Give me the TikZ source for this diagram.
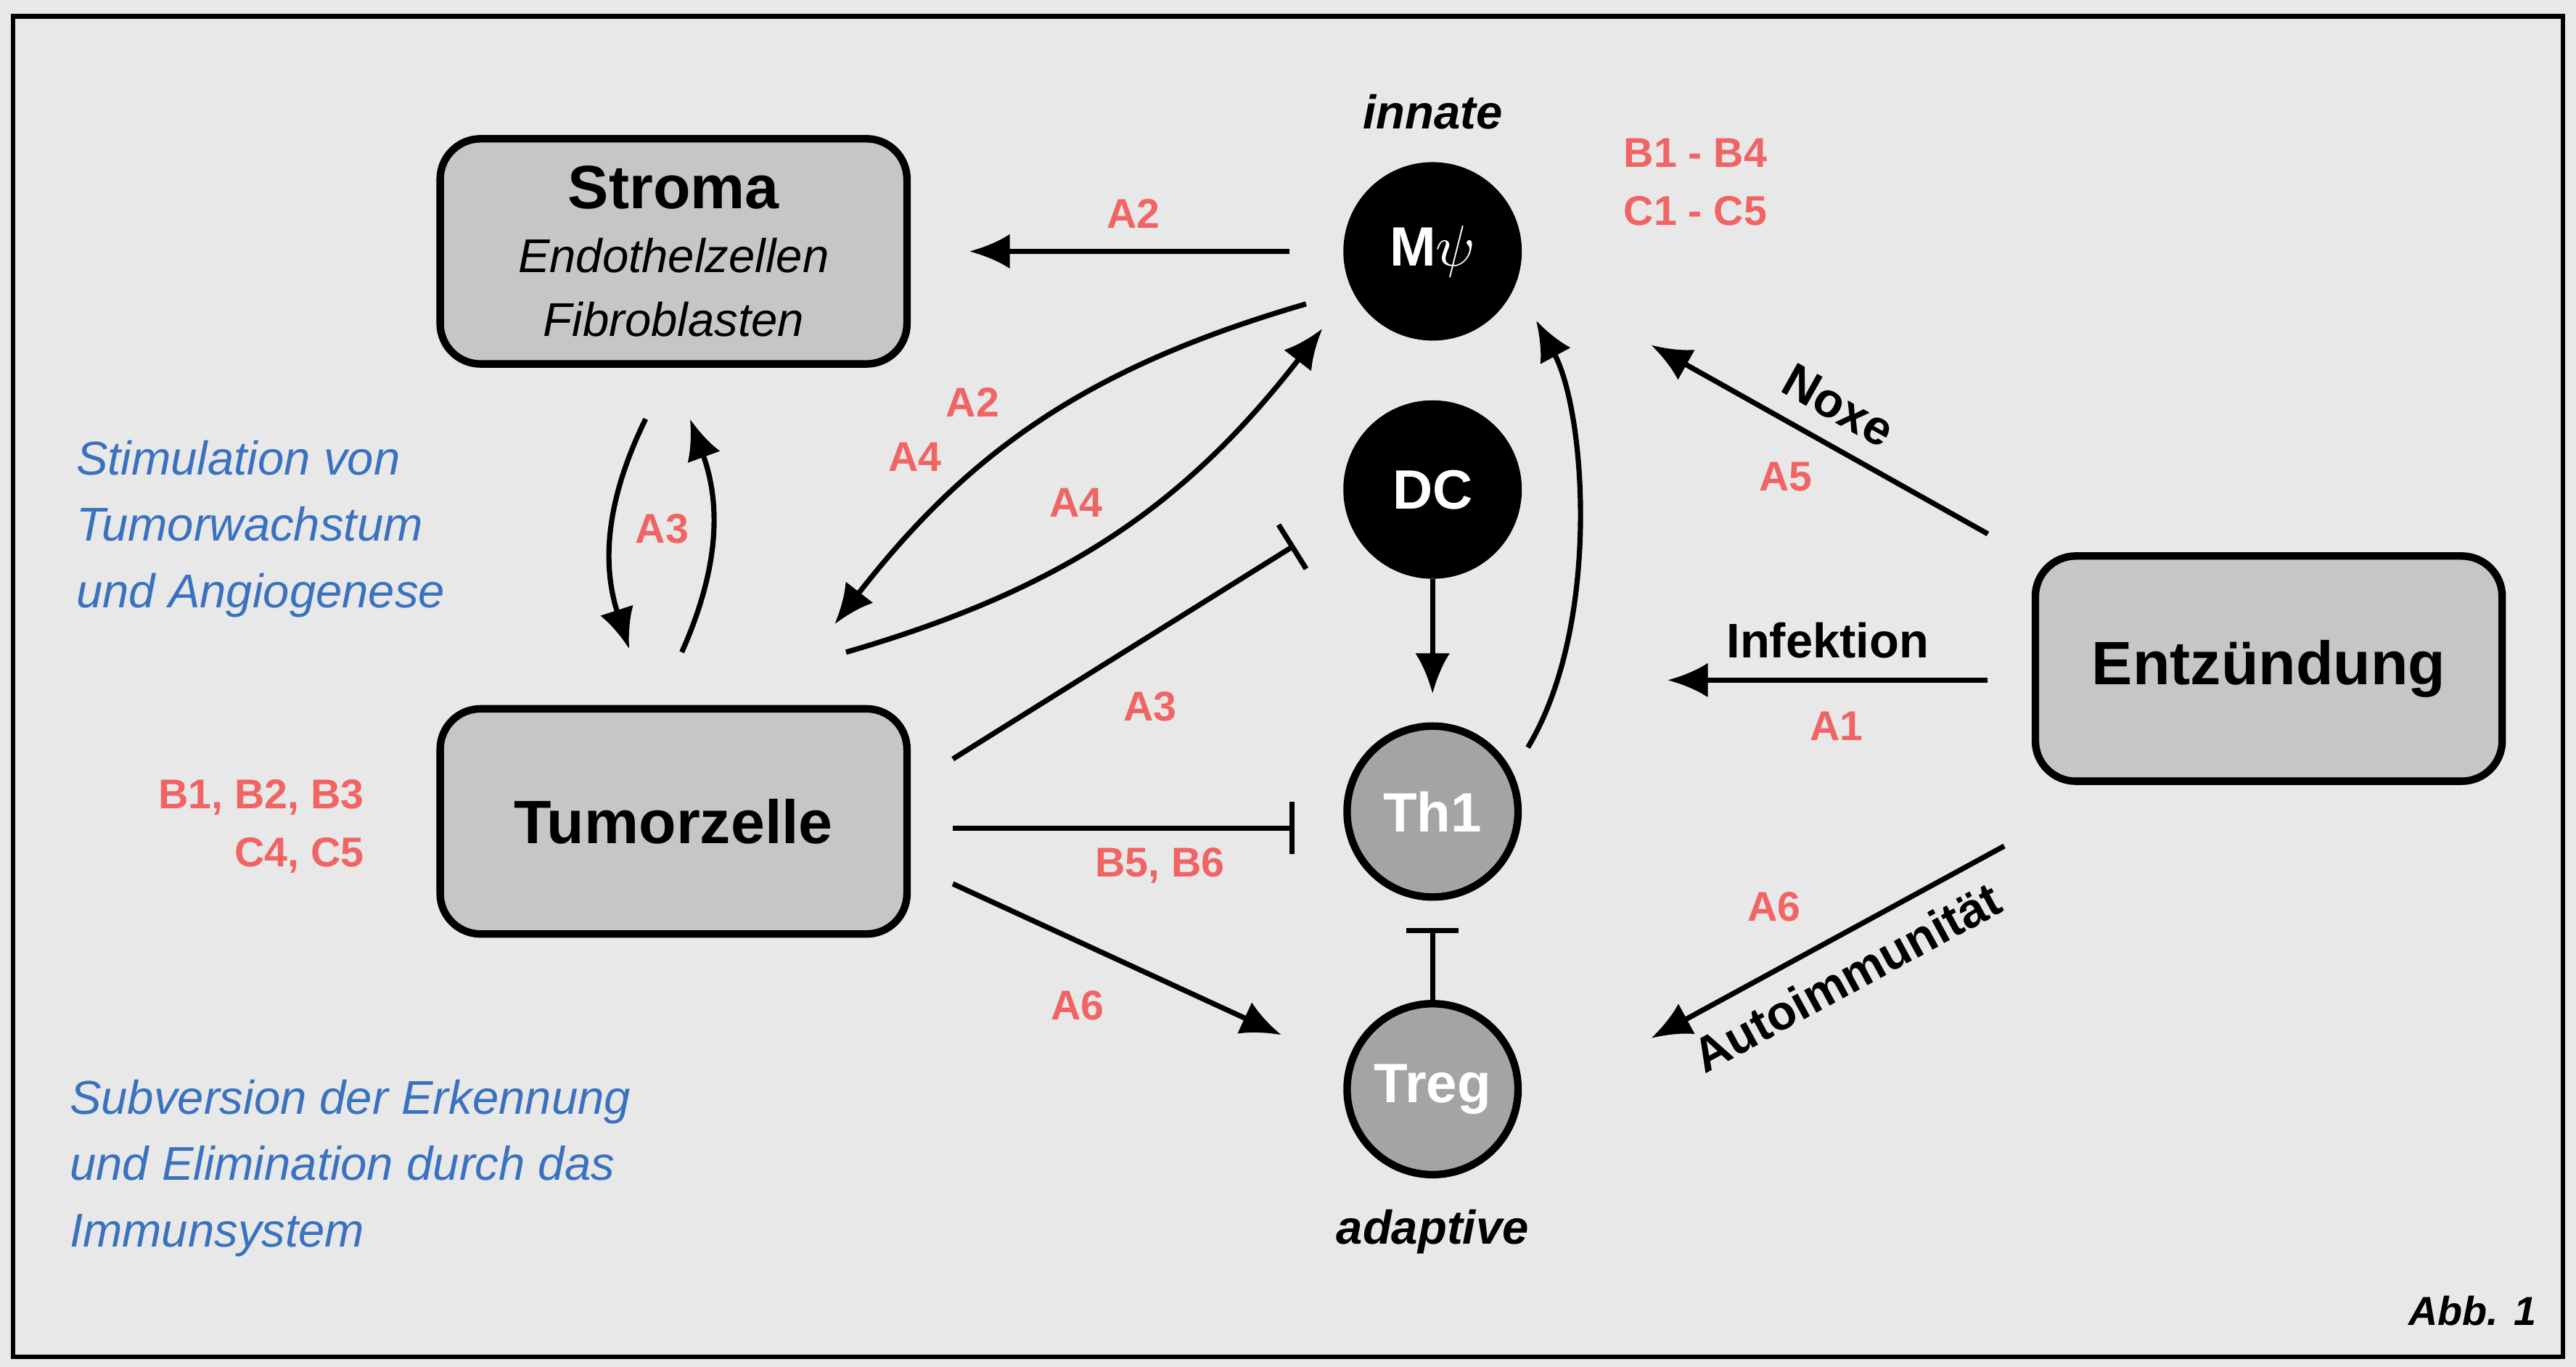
\documentclass[tikz,border=0pt]{standalone}
\usepackage{fontspec}
\setmainfont{Liberation Sans}
\usetikzlibrary{arrows.meta,positioning,calc}
\definecolor{redlab}{HTML}{F06464}
\definecolor{bluelab}{HTML}{3A72C0}
\definecolor{boxgray}{HTML}{C6C6C6}
\definecolor{cellgray}{HTML}{A4A4A4}
\tikzset{
box/.style = {draw, line width=1.3pt, fill=boxgray, rounded corners=7pt, minimum width=2.84cm, minimum height=1.37cm, align=center},
cell/.style = {draw, line width=1.3pt, circle, inner sep=0pt, minimum size=1.04cm, font=\bfseries\fontsize{9.6}{11}\selectfont, text=white},
lab/.style = {text=redlab, font=\bfseries\fontsize{7.2}{10}\selectfont},
note/.style = {text=bluelab, font=\itshape\fontsize{8.2}{11.5}\selectfont, align=left, anchor=west},
blk/.style = {font=\bfseries\fontsize{8.4}{10}\selectfont},
arr/.style = {line width=0.9pt, -{Latex[length=7pt,width=6pt]}},
inh/.style = {line width=0.9pt, -{Bar[width=9pt]}}
}
\begin{document}
\begin{tikzpicture}[x=0.01cm,y=-0.01cm]
    \useasboundingbox (0,0) rectangle (1568,832);
    \fill[black!9] (0,0) rectangle (1568,832);
    \draw[line width=0.8pt] (8,10) rectangle (1560,826);
    % boxes
    \node [box] (stroma) at (410,153) {{\bfseries\fontsize{10.6}{12}\selectfont Stroma}\\[-1pt]{\itshape\fontsize{8.2}{10}\selectfont Endothelzellen}\\[-1pt]{\itshape\fontsize{8.2}{10}\selectfont Fibroblasten}};
    \node [box] (tumor) at (410,500) {\bfseries\fontsize{10.6}{12}\selectfont Tumorzelle};
    \node [box] (entz) at (1381,407) {\bfseries\fontsize{10.6}{12}\selectfont Entzündung};
    % cells
    \node [cell, fill=black] (mpsi) at (872,153) {M$\psi$};
    \node [cell, fill=black] (dc) at (872,298) {DC};
    \node [cell, fill=cellgray] (th1) at (872,494) {Th1};
    \node [cell, fill=cellgray] (treg) at (872,663) {Treg};
    \node [blk, font=\bfseries\itshape\fontsize{8.2}{10}\selectfont] (innate) at (872,68) {innate};
    \node [blk, font=\bfseries\itshape\fontsize{8.2}{10}\selectfont] (adaptive) at (872,750) {adaptive};
    % coordinates
    \coordinate (m1) at (785,153);  \coordinate (s1) at (590,153);
    \coordinate (m2) at (795,185);  \coordinate (t2) at (508,380);
    \coordinate (t3) at (515,397);  \coordinate (m3) at (805,200);
    \coordinate (s4) at (393,255);  \coordinate (t4) at (383,395);
    \coordinate (t5) at (415,397);  \coordinate (s5) at (420,255);
    \coordinate (td) at (580,462);  \coordinate (dd) at (788,332);
    \coordinate (tt) at (580,504);  \coordinate (th) at (788,504);
    \coordinate (tr) at (580,538);  \coordinate (rr) at (780,630);
    \coordinate (e1) at (1210,325); \coordinate (me) at (1005,210);
    \coordinate (e2) at (1210,414); \coordinate (te) at (1015,414);
    \coordinate (e3) at (1220,515); \coordinate (re) at (1005,632);
    \coordinate (bt) at (872,565);
    % connectors
    \draw [arr] (m1) -- (s1);
    \draw [arr] (m2) to[bend right=18] (t2);
    \draw [arr] (t3) to[bend right=18] (m3);
    \draw [arr] (s4) to[bend right=22] (t4);
    \draw [arr] (t5) to[bend right=22] (s5);
    \draw [inh] (td) -- (dd);
    \draw [inh] (tt) -- (th);
    \draw [arr] (tr) -- (rr);
    \draw [arr] (dc.south) -- ++(0,70);
    \draw [arr] (930,455) .. controls (975,380) and (965,250) .. (935,195);
    \draw [inh] (treg.north) -- (bt);
    \draw [arr] (e1) -- node[sloped, above, blk] {Noxe} (me);
    \draw [arr] (e2) -- node[above, blk] {Infektion} (te);
    \draw [arr] (e3) -- node[sloped, below, blk] {Autoimmunität} (re);
    % labels
    \node [lab] (la2a) at (690,130) {A2};
    \node [lab] (la2b) at (592,245) {A2};
    \node [lab] (la4a) at (557,278) {A4};
    \node [lab] (la4b) at (655,306) {A4};
    \node [lab] (la3a) at (403,322) {A3};
    \node [lab] (la3b) at (700,430) {A3};
    \node [lab] (lb56) at (706,527) {B5, B6};
    \node [lab] (la6a) at (656,612) {A6};
    \node [lab] (la5) at (1087,290) {A5};
    \node [lab] (la1) at (1118,442) {A1};
    \node [lab] (la6b) at (1080,552) {A6};
    \node [lab, align=left] (lbc) at (1032,111) {B1 - B4\\C1 - C5};
    \node [lab, align=right, anchor=east] (lbt) at (234,503) {B1, B2, B3\\C4, C5};
    \node [note] (stim) at (34,322) {Stimulation von\\Tumorwachstum\\und Angiogenese};
    \node [note] (subv) at (30,711) {Subversion der Erkennung\\und Elimination durch das\\Immunsystem};
    \node [font=\bfseries\itshape\fontsize{7}{8}\selectfont] (abb) at (1505,798) {Abb. 1};
\end{tikzpicture}
\end{document}
